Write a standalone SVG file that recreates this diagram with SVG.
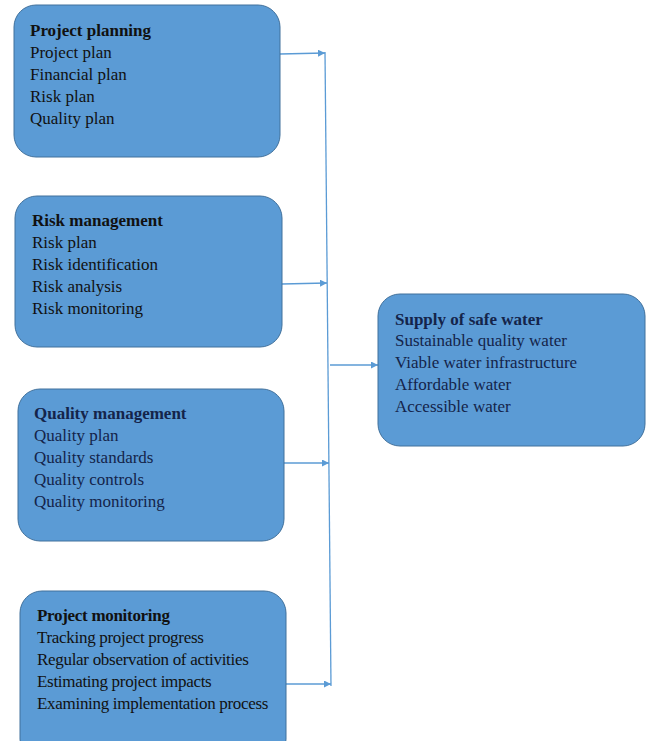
<svg xmlns="http://www.w3.org/2000/svg" width="649" height="741" viewBox="0 0 649 741">
<defs>
<style>
.box{fill:#5b9bd5;stroke:#41719c;stroke-width:1}
.t{font-family:"Liberation Serif","Times New Roman",serif;font-size:17px;fill:#111}
.n{fill:#14244a}
.b{font-weight:bold}
.k{letter-spacing:-0.3px}
.c{fill:none;stroke:#5b9bd5;stroke-width:1.3}
</style>
<marker id="ah" viewBox="0 0 10 10" refX="10" refY="5" markerWidth="7" markerHeight="7" orient="auto" markerUnits="userSpaceOnUse">
<path d="M0,0 L10,5 L0,10 z" fill="#5b9bd5"/>
</marker>
</defs>
<rect width="649" height="741" fill="#fff"/>
<g id="connectors">
<line class="c" x1="325" y1="52" x2="331" y2="686"/>
<line class="c" x1="280" y1="54" x2="325" y2="53" marker-end="url(#ah)"/>
<line class="c" x1="282" y1="284" x2="327" y2="283" marker-end="url(#ah)"/>
<line class="c" x1="284" y1="463" x2="329" y2="463" marker-end="url(#ah)"/>
<line class="c" x1="286" y1="684" x2="331" y2="684" marker-end="url(#ah)"/>
<line class="c" x1="330" y1="365" x2="378" y2="365" marker-end="url(#ah)"/>
</g>
<g id="project-planning">
<rect class="box" x="14" y="5" width="266" height="152" rx="22"/>
<text class="t b" x="30" y="36">Project planning</text>
<text class="t" x="30" y="58">Project plan</text>
<text class="t" x="30" y="80">Financial plan</text>
<text class="t" x="30" y="102">Risk plan</text>
<text class="t" x="30" y="124">Quality plan</text>
</g>
<g id="risk-management">
<rect class="box" x="15" y="196" width="267" height="151" rx="22"/>
<text class="t b" x="32" y="226">Risk management</text>
<text class="t" x="32" y="248">Risk plan</text>
<text class="t" x="32" y="270">Risk identification</text>
<text class="t" x="32" y="292">Risk analysis</text>
<text class="t" x="32" y="314">Risk monitoring</text>
</g>
<g id="quality-management">
<rect class="box" x="18" y="389" width="266" height="152" rx="22"/>
<text class="t n b" x="34" y="419">Quality management</text>
<text class="t n" x="34" y="441">Quality plan</text>
<text class="t n" x="34" y="463">Quality standards</text>
<text class="t n" x="34" y="485">Quality controls</text>
<text class="t n" x="34" y="507">Quality monitoring</text>
</g>
<g id="project-monitoring">
<rect class="box" x="20" y="591" width="266" height="170" rx="22"/>
<text class="t b k" x="37" y="621">Project monitoring</text>
<text class="t k" x="37" y="643">Tracking project progress</text>
<text class="t k" x="37" y="665">Regular observation of activities</text>
<text class="t k" x="37" y="687">Estimating project impacts</text>
<text class="t k" x="37" y="709">Examining implementation process</text>
</g>
<g id="supply-of-safe-water">
<rect class="box" x="378" y="294" width="267" height="152" rx="22"/>
<text class="t n b" x="395" y="325">Supply of safe water</text>
<text class="t n" x="395" y="346">Sustainable quality water</text>
<text class="t n" x="395" y="368">Viable water infrastructure</text>
<text class="t n" x="395" y="390">Affordable water</text>
<text class="t n" x="395" y="412">Accessible water</text>
</g>
</svg>
